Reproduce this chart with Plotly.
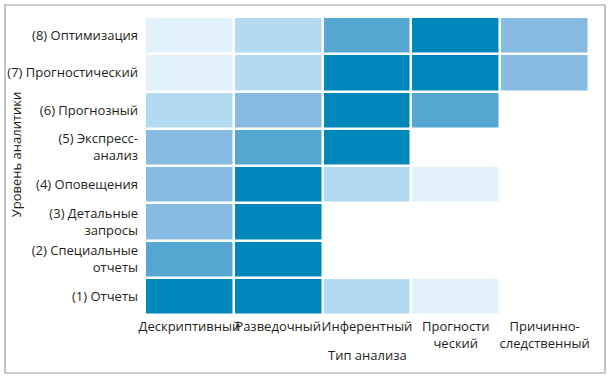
import plotly.graph_objects as go

# Data
analysis_types = ["Дескриптивный", "Разведочный", "Инферентный", "Прогности<br>ческий", "Причинно-<br>следственный"]
levels = ["(1) Отчеты", "(2) Специальные<br>отчеты", "(3) Детальные<br>запросы", "(4) Оповещения",
          "(5) Экспресс-<br>анализ", "(6) Прогнозный", "(7) Прогностический", "(8) Оптимизация"]
# intensity 1..5, None = empty; rows bottom (1) to top (8)
row_1 = [5, 5, 2, 1, None]
row_2 = [4, 5, None, None, None]
row_3 = [3, 5, None, None, None]
row_4 = [3, 5, 2, 1, None]
row_5 = [3, 4, 5, None, None]
row_6 = [2, 3, 5, 4, None]
row_7 = [1, 2, 5, 5, 3]
row_8 = [1, 2, 4, 5, 3]
z = [row_1, row_2, row_3, row_4, row_5, row_6, row_7, row_8]

palette = ["#E1F2FB", "#B2DAF1", "#88BBE1", "#56A6D2", "#0087BC"]
colorscale = []
for i, c in enumerate(palette):
    colorscale.append([i / 5, c])
    colorscale.append([(i + 1) / 5, c])

fig = go.Figure(go.Heatmap(
    z=z, x=list(range(5)), y=list(range(8)),
    zmin=0.5, zmax=5.5, colorscale=colorscale, showscale=False,
    xgap=2.5, ygap=2.5, hoverongaps=False,
))

font = "Open Sans, Noto Sans, sans-serif"
fig.update_layout(
    width=611, height=381,
    margin=dict(l=145, r=22, t=17, b=66, autoexpand=False),
    paper_bgcolor="white", plot_bgcolor="white",
    font=dict(family=font, size=13, color="#231F20"),
    xaxis=dict(tickmode="array", tickvals=list(range(5)), ticktext=analysis_types,
               showgrid=False, zeroline=False, showline=False, ticks="",
               range=[-0.5, 4.5], tickfont=dict(size=13), tickangle=0, ticklabelstandoff=2),
    yaxis=dict(tickmode="array", tickvals=list(range(8)), ticktext=levels,
               showgrid=False, zeroline=False, showline=False, ticks="",
               range=[-0.5, 7.5], tickfont=dict(size=13), ticklabelstandoff=6),
    annotations=[
        dict(text="Тип анализа", xref="paper", yref="paper", x=0.5, y=-0.135,
             showarrow=False, font=dict(size=13), xanchor="center", yanchor="middle"),
        dict(text="Уровень аналитики", xref="paper", yref="paper", x=-0.29, y=0.54,
             showarrow=False, textangle=-90, font=dict(size=13),
             xanchor="center", yanchor="middle"),
    ],
    shapes=[
        dict(type="rect", xref="paper", yref="paper",
             x0=(5 - 145) / 444, x1=(605 - 145) / 444,
             y0=(315 - 373) / 298, y1=(315 - 5) / 298,
             line=dict(color="#9A9A9A", width=1.2), fillcolor="rgba(0,0,0,0)", layer="below"),
    ],
)

fig.write_html("out.html", config={"displayModeBar": False},
               post_script="document.body.style.margin='0';")
